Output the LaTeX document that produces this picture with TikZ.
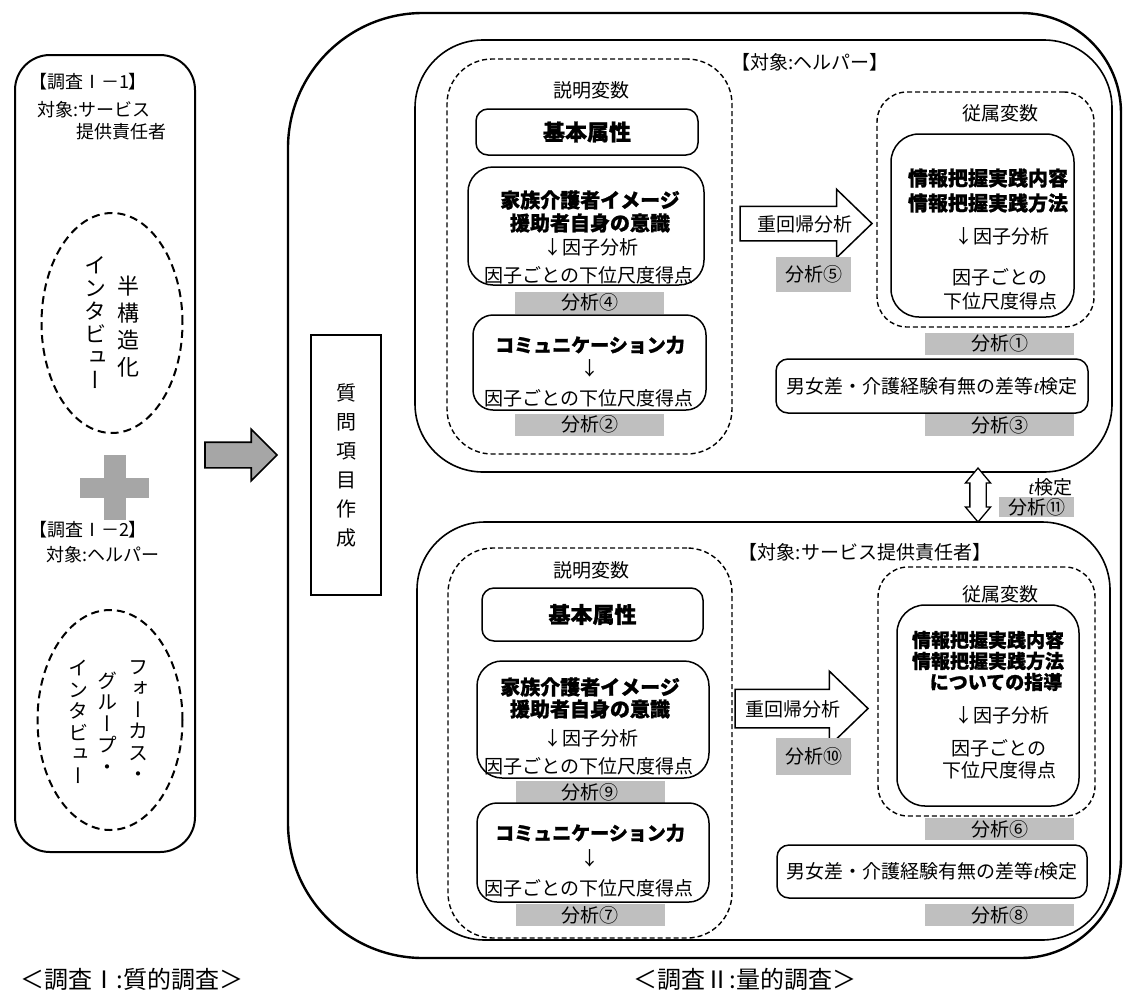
\documentclass[tikz,border=0pt]{standalone}
\usepackage{fontspec}
\setmainfont{Noto Sans CJK JP}[BoldFeatures={FakeBold=1}]
\newfontfamily\vfont{Noto Sans CJK JP}[RawFeature=+vert]
\newfontfamily\tserif{Liberation Serif}
\usetikzlibrary{shapes.geometric,shapes.arrows}
\newcommand\myfs[1]{\fontsize{#1}{#1}\selectfont}
\newcommand\tit{{\tserif\itshape t}}
\definecolor{labgray}{RGB}{191,191,191}
\definecolor{crossgray}{RGB}{166,166,166}
\begin{document}
\begin{tikzpicture}[x=1pt,y=-1pt,
  every node/.style={inner sep=0pt, outer sep=0pt},
  txt/.style={font=\myfs{19}},
  btxt/.style={font=\bfseries\myfs{20}},
  lt/.style={font=\myfs{18}, anchor=west},
  panel/.style={draw, line width=2pt, rounded corners=35pt},
  ibox/.style={draw, line width=1.6pt},
  dbox/.style={draw, line width=1.4pt, dash pattern=on 5pt off 3pt},
  sbox/.style={draw, line width=1.5pt},
  ell/.style={draw, ellipse, line width=2pt, dash pattern=on 8pt off 5pt},
  lab/.style={fill=labgray, minimum width=149pt, minimum height=22pt, font=\myfs{19}},
  slab/.style={fill=labgray, minimum width=75pt, font=\myfs{19}},
  harrow/.style={single arrow, draw, fill=white, line width=1.5pt, single arrow tip angle=88, inner xsep=0pt},
]
\useasboundingbox (0,0) rectangle (1123,993);

% ---------- left panel ----------
\node[panel, minimum width=180pt, minimum height=797pt, anchor=north west] (left) at (15,55) {};
\node[lt] (t11) at (29,82) {【調査Ⅰ－1】};
\node[lt] (t12) at (37,110) {対象:サービス};
\node[lt] (t13) at (76,132) {提供責任者};
\node[ell, minimum width=141pt, minimum height=220pt] (e1) at (112,323) {};
\node[font=\vfont\fontsize{22}{27}\selectfont, align=center] (v1) at (128,327) {半\\構\\造\\化};
\node[font=\vfont\fontsize{22}{23}\selectfont, align=center] (v2) at (95,323) {イ\\ン\\タ\\ビ\\ュ\\ー};
\fill[crossgray] (80,478) rectangle (149,498);
\fill[crossgray] (104,455) rectangle (126,520);
\node[lt] (t21) at (29,530) {【調査Ⅰ－2】};
\node[lt] (t22) at (46,555) {対象:ヘルパー};
\node[ell, minimum width=145pt, minimum height=220pt] (e2) at (110,720) {};
\node[font=\vfont\fontsize{20}{21.5}\selectfont, align=center] (v3) at (138,721) {フ\\ォ\\ー\\カ\\ス\\・};
\node[font=\vfont\fontsize{20}{21.5}\selectfont, align=center] (v4) at (107,723) {グ\\ル\\ー\\プ\\・};
\node[font=\vfont\fontsize{20}{21.5}\selectfont, align=center] (v5) at (78,722) {イ\\ン\\タ\\ビ\\ュ\\ー};

% ---------- question box ----------
\node[draw, line width=1.8pt, minimum width=70pt, minimum height=260pt, align=center,
      font=\vfont\fontsize{20}{29}\selectfont] (q) at (346,465) {質\\問\\項\\目\\作\\成};
\node[single arrow, draw, fill=crossgray, line width=1.6pt, minimum height=72pt, inner xsep=0pt, inner ysep=12pt,
      single arrow head extend=13pt, anchor=tail] (garrow) at ([xshift=10pt]left.east |- 0,455) {};

% ---------- outer frame ----------
\draw[line width=2.4pt] (423,13) -- (1021,13) .. controls (1076.2,13) and (1121,57.8) .. (1121,113)
  -- (1121,858) .. controls (1121,913.2) and (1076.2,958) .. (1021,958)
  -- (423,958) .. controls (348.5,958) and (288,897.5) .. (288,823)
  -- (288,148) .. controls (288,73.5) and (348.5,13) .. (423,13) -- cycle;

% ---------- upper block (helper) ----------
\node[ibox, rounded corners=68pt, minimum width=697pt, minimum height=432pt, anchor=north west] (up) at (415,40) {};
\node[txt] (tu) at (810,62) {【対象:ヘルパー】};
\node[dbox, rounded corners=45pt, minimum width=285pt, minimum height=395pt, anchor=north west] (ex1) at (447,59) {};
\node[txt] (ex1t) at (591,90) {説明変数};
\node[sbox, rounded corners=12pt, minimum width=222pt, minimum height=46pt, font=\bfseries\myfs{22}] (ba1) at (587,132) {基本属性};
\node[sbox, rounded corners=25pt, minimum width=236pt, minimum height=118pt, anchor=north west] (fa1) at (468,167) {};
\node[btxt] at (590,200) {家族介護者イメージ};
\node[btxt] at (590,223) {援助者自身の意識};
\node[txt] at (591,247) {↓因子分析};
\node[txt] at (589,275) {因子ごとの下位尺度得点};
\node[lab] (a4) at (589.5,302.5) {分析④};
\node[sbox, rounded corners=20pt, minimum width=233pt, minimum height=95pt, anchor=north west] (co1) at (473,315) {};
\node[font=\bfseries\myfs{19}] at (590,345) {コミュニケーション力};
\node[txt] at (590,368) {↓};
\node[txt] at (589,398) {因子ごとの下位尺度得点};
\node[lab] (a2) at (589.5,424.5) {分析②};

\node[dbox, rounded corners=30pt, minimum width=217pt, minimum height=235pt, anchor=north west] (de1) at (877,92) {};
\node[txt] (de1t) at (1000,113) {従属変数};
\node[sbox, rounded corners=28pt, minimum width=183pt, minimum height=183pt, anchor=north west] (dv1) at (891,134) {};
\node[btxt] at (988,178) {情報把握実践内容};
\node[btxt] at (988,203) {情報把握実践方法};
\node[txt] at (1002,236) {↓因子分析};
\node[txt] at (1000,277) {因子ごとの};
\node[txt] at (1000,301) {下位尺度得点};
\node[lab] (a1) at (999.5,343.5) {分析①};
\node[sbox, rounded corners=12pt, minimum width=312pt, minimum height=54pt, txt] (gd1) at (932,386) {男女差・介護経験有無の差等\tit 検定};
\node[lab] (a3) at (999.5,425) {分析③};

\node[harrow, minimum height=132pt, inner ysep=16.5pt, single arrow head extend=17pt, anchor=tail] (ra1) at (740,223.5) {};
\node[txt] at (805,224) {重回帰分析};
\node[slab, minimum height=35pt] (a5) at (813.5,274.5) {分析⑤};

% ---------- t-test link ----------
\node[double arrow, draw, fill=white, line width=1.3pt, minimum height=54pt, inner xsep=0pt, inner ysep=7.5pt,
      double arrow head extend=4.5pt, double arrow tip angle=80, rotate=90] (da) at (978,495) {};
\node[txt, anchor=east] (tt) at (1072,487) {\tit 検定};
\node[slab, minimum height=20pt] (a11) at (1036.5,507) {分析⑪};

% ---------- lower block (service manager) ----------
\node[ibox, rounded corners=68pt, minimum width=693pt, minimum height=418pt, anchor=north west] (lo) at (417,522) {};
\node[txt] (tl) at (865,552) {【対象:サービス提供責任者】};
\node[dbox, rounded corners=45pt, minimum width=284pt, minimum height=390pt, anchor=north west] (ex2) at (448,548) {};
\node[txt] (ex2t) at (591,570) {説明変数};
\node[sbox, rounded corners=12pt, minimum width=221pt, minimum height=53pt, font=\bfseries\myfs{22}] (ba2) at (592.5,614.5) {基本属性};
\node[sbox, rounded corners=25pt, minimum width=232pt, minimum height=117pt, anchor=north west] (fa2) at (477,661) {};
\node[btxt] at (590,687) {家族介護者イメージ};
\node[btxt] at (590,709) {援助者自身の意識};
\node[txt] at (591,738) {↓因子分析};
\node[txt] at (589,766) {因子ごとの下位尺度得点};
\node[lab] (a9) at (590,792) {分析⑨};
\node[sbox, rounded corners=20pt, minimum width=232pt, minimum height=99pt, anchor=north west] (co2) at (477,803) {};
\node[font=\bfseries\myfs{19}] at (590,833) {コミュニケーション力};
\node[txt] at (590,858) {↓};
\node[txt] at (589,888) {因子ごとの下位尺度得点};
\node[lab] (a7) at (590,915) {分析⑦};

\node[dbox, rounded corners=30pt, minimum width=217pt, minimum height=249pt, anchor=north west] (de2) at (878,567) {};
\node[txt] (de2t) at (1000,594) {従属変数};
\node[sbox, rounded corners=28pt, minimum width=182pt, minimum height=201pt, anchor=north west] (dv2) at (897,605) {};
\node[font=\bfseries\myfs{19}] at (988,640) {情報把握実践内容};
\node[font=\bfseries\myfs{19}] at (988,661) {情報把握実践方法};
\node[font=\bfseries\myfs{19}] at (996,682) {についての指導};
\node[txt] at (1002,715) {↓因子分析};
\node[txt] at (999,748) {因子ごとの};
\node[txt] at (999,770) {下位尺度得点};
\node[lab] (a6) at (999.5,829) {分析⑥};
\node[sbox, rounded corners=12pt, minimum width=310pt, minimum height=53pt, txt] (gd2) at (932,871.5) {男女差・介護経験有無の差等\tit 検定};
\node[lab] (a8) at (999.5,915) {分析⑧};

\node[harrow, minimum height=133pt, inner ysep=18.5pt, single arrow head extend=18pt, anchor=tail] (ra2) at (735,708.5) {};
\node[txt] at (793,709) {重回帰分析};
\node[slab, minimum height=37pt] (a10) at (813.5,756.5) {分析⑩};

% ---------- captions ----------
\node[font=\myfs{24}] (c1) at (132,979) {＜調査Ⅰ:質的調査＞};
\node[font=\myfs{24}] (c2) at (745,979) {＜調査Ⅱ:量的調査＞};
\end{tikzpicture}
\end{document}
